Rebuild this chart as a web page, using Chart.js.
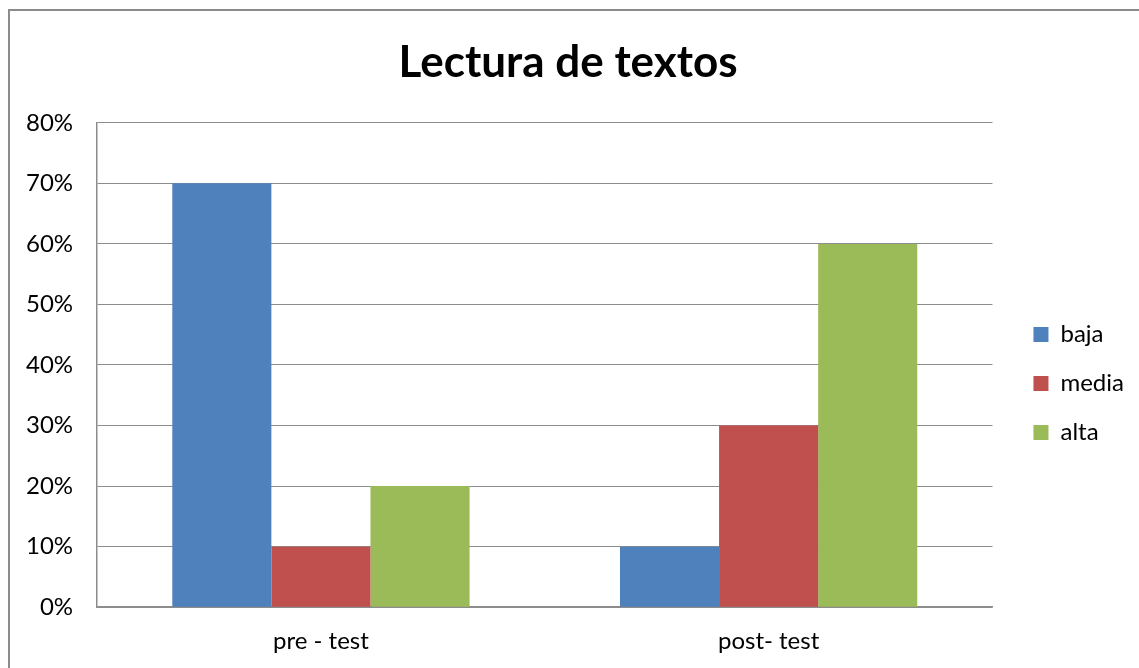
<!DOCTYPE html>
<html>
<head>
<meta charset="utf-8">
<script src="https://cdn.jsdelivr.net/npm/chart.js@4"></script>
<style>
  body { margin: 0; background: #fff; overflow: hidden; }
  #frame {
    position: absolute; left: 8px; top: 9px;
    width: 1131px; height: 659px;
    border-left: 2px solid #8c8c8c; border-top: 2px solid #8c8c8c;
  }
</style>
</head>
<body>
<div id="frame"><canvas id="chart" width="1129" height="657"></canvas></div>
<script>
// ---- DATA ----
const categories = ['pre - test', 'post- test'];
const baja  = [70, 10];
const media = [10, 30];
const alta  = [20, 60];
const yTicks = { min: 0, max: 80, step: 10 };

const font = "Lato, 'Liberation Sans', sans-serif";

new Chart(document.getElementById('chart'), {
  type: 'bar',
  data: {
    labels: categories,
    datasets: [
      { label: 'baja',  data: baja,  backgroundColor: '#4F81BD' },
      { label: 'media', data: media, backgroundColor: '#C0504D' },
      { label: 'alta',  data: alta,  backgroundColor: '#9BBB59' }
    ]
  },
  options: {
    responsive: false,
    animation: false,
    categoryPercentage: 0.664,
    barPercentage: 1,
    layout: { padding: { left: -8, right: 5, bottom: 0 } },
    plugins: {
      title: {
        display: true,
        text: 'Lectura de textos',
        color: '#000',
        font: { family: font, size: 44, weight: 'bold' },
        padding: { top: 25, bottom: 34 }
      },
      legend: {
        position: 'right',
        // blank title: only pushes the legend entries down a bit
        title: { display: true, text: ' ', font: { size: 10, lineHeight: 1 }, padding: { top: 39, bottom: 39 } },
        labels: {
          color: '#000',
          font: { family: font, size: 24 },
          boxWidth: 15, boxHeight: 15,
          padding: 25
        }
      },
      tooltip: { enabled: false }
    },
    scales: {
      x: {
        grid: { display: false },
        border: { display: true, color: '#8c8c8c', width: 1.5 },
        ticks: { color: '#000', font: { family: font, size: 24 }, padding: 12 }
      },
      y: {
        min: yTicks.min, max: yTicks.max,
        grid: { color: '#8c8c8c', lineWidth: 1, drawTicks: false },
        border: { display: true, color: '#8c8c8c', width: 1.5 },
        ticks: {
          stepSize: yTicks.step,
          color: '#000',
          font: { family: font, size: 24 },
          padding: 24,
          callback: v => v + '%'
        }
      },
      // empty right-hand axis, only keeps a gap between plot and legend
      gap: {
        axis: 'y',
        position: 'right',
        display: true,
        grid: { display: false },
        border: { display: false },
        ticks: { display: false },
        afterFit: s => { s.width = 16; }
      }
    }
  }
});
</script>
</body>
</html>
